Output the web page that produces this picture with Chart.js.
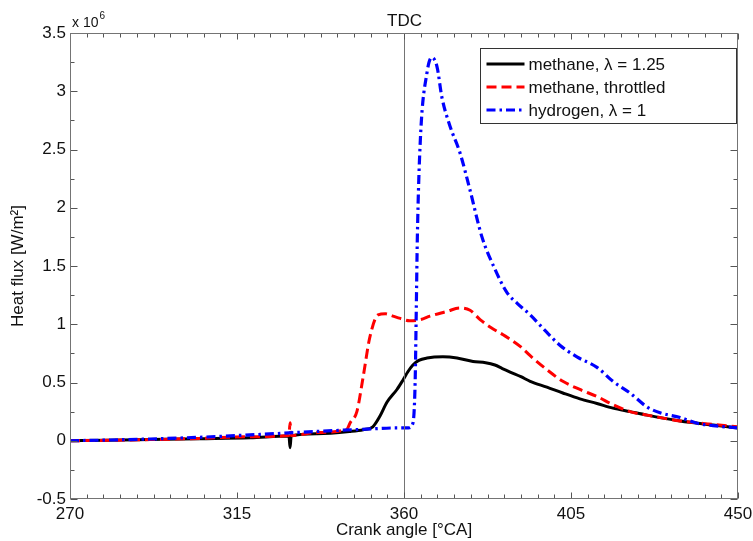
<!DOCTYPE html>
<html><head><meta charset="utf-8">
<script src="https://cdn.jsdelivr.net/npm/chart.js@4"></script>
<style>html,body{margin:0;padding:0;background:#fff;}#wrap{width:753px;height:541px;}</style>
</head><body><div id="wrap"><canvas id="c" width="753" height="541"></canvas></div>
<script>
// ---- data (heat flux in 10^6 W/m^2 vs crank angle in °CA) ----
const seriesLabels = ['methane, \u03bb = 1.25', 'methane, throttled', 'hydrogen, \u03bb = 1'];
const leanX = [270,280,291.6,305,318.5,329.0,329.3,329.6,336.6,345.5,349,351.6,353.5,355.4,358.1,359.7,361,362.4,364,366.2,370.5,374.3,378.6,382,384.5,386.5,388.6,391.5,394,398.5,402.8,407.4,412,416.3,420.9,425.5,434.4,443.3,450];
const leanY = [0,0.004,0.01,0.017,0.025,0.04,-0.06,0.04,0.06,0.08,0.095,0.12,0.21,0.33,0.44,0.52,0.59,0.65,0.69,0.71,0.72,0.71,0.68,0.67,0.65,0.62,0.59,0.55,0.51,0.46,0.41,0.36,0.32,0.28,0.25,0.22,0.17,0.135,0.11];
const thrX = [270,280,291.6,305,318.5,329.0,329.3,329.6,336.6,344.6,345.5,347.3,349,350.8,353,355,357,359,361.5,364.5,367,371.6,375,377.8,380.5,383.5,386.7,391.3,394,398.5,402.8,407.4,412,416.3,420.9,425.5,434.4,443.3,450];
const thrY = [0,0.004,0.01,0.02,0.035,0.045,0.155,0.045,0.07,0.10,0.155,0.25,0.55,0.89,1.08,1.09,1.07,1.05,1.03,1.04,1.07,1.11,1.14,1.12,1.04,0.97,0.91,0.81,0.73,0.61,0.51,0.44,0.38,0.31,0.25,0.22,0.17,0.14,0.12];
const h2X = [270,280,291.6,305,318.5,336.6,350,358,361.2,362.4,363.0,363.3,363.6,364.4,366.2,367.5,368.9,370.2,372.4,375.1,377.8,381,384.4,387.8,390.5,394,398.5,402,406.6,412,416.3,420.9,425.5,429,434.4,439,443.3,450];
const h2Y = [0,0.006,0.015,0.03,0.05,0.08,0.10,0.11,0.11,0.15,0.5,1.1,1.75,2.58,3.16,3.29,3.21,2.95,2.70,2.47,2.15,1.75,1.48,1.27,1.18,1.08,0.93,0.82,0.72,0.63,0.51,0.41,0.29,0.24,0.20,0.15,0.13,0.11];
const xTicks = [270,315,360,405,450];
const yTicks = [-0.5,0,0.5,1,1.5,2,2.5,3,3.5];
const tdcAngle = 360;
const xMinorStep = 4.5, yMinorStep = 0.25;

const pts = (xs, ys) => xs.map((x, i) => ({x: x, y: ys[i]}));
const FONT = '"Liberation Sans", Arial, Helvetica, sans-serif';

const frame = {
  id: 'frame',
  afterDatasetsDraw(chart) {
    const {ctx, chartArea: a, scales: {x, y}} = chart;
    ctx.save();
    ctx.strokeStyle = '#747474';
    ctx.lineWidth = 1;
    const L = Math.round(a.left) + 0.5, R = Math.round(a.right) - 0.5;
    const T = Math.round(a.top) + 0.5, B = Math.round(a.bottom) - 0.5;
    // TDC line
    const tx = Math.round(x.getPixelForValue(tdcAngle)) + 0.5;
    ctx.beginPath(); ctx.moveTo(tx, T); ctx.lineTo(tx, B); ctx.stroke();
    // ticks
    ctx.strokeStyle = '#555';
    ctx.beginPath();
    const x0 = xTicks[0], x1 = xTicks[xTicks.length - 1];
    for (let k = 0; x0 + k * xMinorStep <= x1 + 1e-9; k++) {
      const v = x0 + k * xMinorStep;
      const major = xTicks.some(t => Math.abs(t - v) < 1e-6);
      const len = major ? 6 : 4;
      const px = Math.round(x.getPixelForValue(v)) + 0.5;
      ctx.moveTo(px, B); ctx.lineTo(px, B - len);
      ctx.moveTo(px, T); ctx.lineTo(px, T + len);
    }
    const y0 = yTicks[0], y1 = yTicks[yTicks.length - 1];
    for (let k = 0; y0 + k * yMinorStep <= y1 + 1e-9; k++) {
      const v = y0 + k * yMinorStep;
      const major = yTicks.some(t => Math.abs(t - v) < 1e-6);
      const len = major ? 7 : 4;
      const py = Math.round(y.getPixelForValue(v)) + 0.5;
      ctx.moveTo(L, py); ctx.lineTo(L + len, py);
      ctx.moveTo(R, py); ctx.lineTo(R - len, py);
    }
    ctx.stroke();
    // box
    ctx.strokeStyle = '#747474';
    ctx.strokeRect(L, T, R - L, B - T);
    // TDC label
    ctx.fillStyle = '#111';
    ctx.font = '17px ' + FONT;
    ctx.textAlign = 'center';
    ctx.textBaseline = 'middle';
    ctx.fillText('TDC', tx, a.top - 12);
    // exponent label
    ctx.textAlign = 'left';
    ctx.textBaseline = 'alphabetic';
    ctx.font = '14px ' + FONT;
    ctx.fillText('x 10', a.left + 2, a.top - 6);
    const w = ctx.measureText('x 10').width;
    ctx.font = '10px ' + FONT;
    ctx.fillText('6', a.left + 3 + w, a.top - 14);
    // legend
    const lw = 256, lh = 75;
    const lx = Math.round(a.right) - lw - 1.5, ly = Math.round(a.top) + 15.5;
    ctx.fillStyle = '#fff';
    ctx.fillRect(lx, ly, lw, lh);
    ctx.strokeStyle = '#333';
    ctx.lineWidth = 1;
    ctx.strokeRect(lx, ly, lw, lh);
    const legendOrder = [0, 1, 2];
    legendOrder.forEach((di, r) => {
      const ds = chart.data.datasets[di];
      const ry = ly + 15.5 + r * 23;
      ctx.save();
      ctx.strokeStyle = ds.borderColor;
      ctx.lineWidth = ds.borderWidth;
      ctx.setLineDash(ds.borderDash || []);
      ctx.beginPath(); ctx.moveTo(lx + 6, ry); ctx.lineTo(lx + 44, ry); ctx.stroke();
      ctx.restore();
      ctx.fillStyle = '#111';
      ctx.font = '17px ' + FONT;
      ctx.textBaseline = 'middle';
      ctx.textAlign = 'left';
      ctx.fillText(ds.label, lx + 48, ry + 1);
    });
    ctx.restore();
  }
};

new Chart(document.getElementById('c'), {
  type: 'line',
  data: {
    datasets: [
      {label: seriesLabels[0], data: pts(leanX, leanY), borderColor: '#000000', borderWidth: 3, borderDash: [], order: 3},
      {label: seriesLabels[1], data: pts(thrX, thrY), borderColor: '#ff0000', borderWidth: 3, borderDash: [10, 5], order: 2},
      {label: seriesLabels[2], data: pts(h2X, h2Y), borderColor: '#0000ff', borderWidth: 3.2, borderDash: [9, 4, 2.5, 4], order: 1}
    ]
  },
  options: {
    responsive: false,
    animation: false,
    devicePixelRatio: 1,
    layout: {padding: {left: 0, right: 15, top: 33, bottom: 0}},
    elements: {point: {radius: 0, hoverRadius: 0}, line: {cubicInterpolationMode: 'monotone', fill: false}},
    plugins: {legend: {display: false}, tooltip: {enabled: false}},
    events: [],
    scales: {
      x: {
        type: 'linear', min: 270, max: 450,
        afterBuildTicks: s => { s.ticks = xTicks.map(v => ({value: v})); },
        afterFit: s => { s.height = 42; s.paddingLeft = 0; s.paddingRight = 0; },
        grid: {display: false, drawTicks: false},
        border: {display: false},
        ticks: {padding: 5, color: '#111', font: {family: FONT, size: 17}, maxRotation: 0, autoSkip: false, callback: v => String(v)},
        title: {display: true, text: 'Crank angle [\u00b0CA]', color: '#111', font: {family: FONT, size: 17}, padding: {top: 0, bottom: 0}}
      },
      y: {
        type: 'linear', min: -0.5, max: 3.5,
        afterBuildTicks: s => { s.ticks = yTicks.map(v => ({value: v})); },
        afterFit: s => { s.width = 70; s.paddingTop = 0; s.paddingBottom = 0; },
        grid: {display: false, drawTicks: false},
        border: {display: false},
        ticks: {padding: 4, color: '#111', font: {family: FONT, size: 17}, autoSkip: false, callback: v => String(Math.round(v * 100) / 100)},
        title: {display: true, text: 'Heat flux [W/m\u00b2]', color: '#111', font: {family: FONT, size: 17}, padding: {top: 8, bottom: 0}}
      }
    }
  },
  plugins: [frame]
});
</script>
</body></html>
